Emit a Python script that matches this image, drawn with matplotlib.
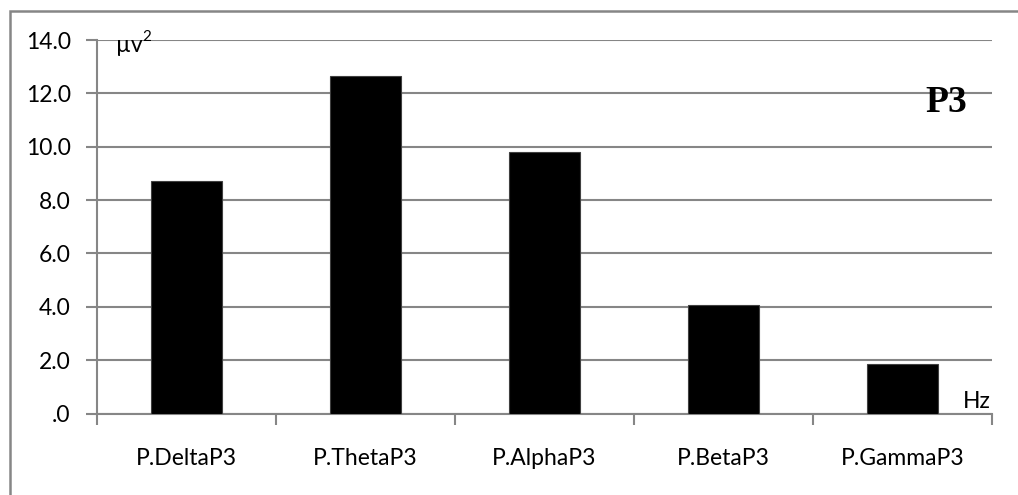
import matplotlib
matplotlib.use("Agg")
import matplotlib.pyplot as plt
from matplotlib.patches import Rectangle
import numpy as np

categories = ["P.DeltaP3", "P.ThetaP3", "P.AlphaP3", "P.BetaP3", "P.GammaP3"]
values = [8.70, 12.65, 9.80, 4.07, 1.87]
yticks = [0, 2, 4, 6, 8, 10, 12, 14]
ytick_labels = [".0", "2.0", "4.0", "6.0", "8.0", "10.0", "12.0", "14.0"]

W, H = 1018, 495
fig = plt.figure(figsize=(W / 100, H / 100), dpi=100)
fig.patch.set_facecolor("white")

# outer chart border
fig.patches.append(Rectangle((10 / W, -0.1), 1.2, 1 - 11 / H + 0.1, transform=fig.transFigure,
                             fill=False, edgecolor="#868686", linewidth=1.8))

ax = fig.add_axes([97 / W, (H - 413.5) / H, (992 - 97) / W, (413.5 - 40) / H])
x = np.arange(len(categories))
ax.bar(x, values, width=0.40, color="black", edgecolor="#404040", linewidth=0.8, zorder=3)

ax.set_xlim(-0.5, len(categories) - 0.5)
ax.set_ylim(0, 14)
ax.set_yticks(yticks)
ax.set_yticklabels(ytick_labels)
ax.yaxis.grid(True, color="#868686", linewidth=1.5, zorder=0)
ax.set_axisbelow(True)

ax.set_xticks(np.arange(-0.5, len(categories), 1.0))
ax.set_xticklabels([])
ax.set_xticks(x, minor=True)
ax.set_xticklabels(categories, minor=True)
ax.tick_params(axis="x", which="minor", length=0, pad=25, labelsize=16.5)
ax.tick_params(axis="x", which="major", length=8, width=1.5, color="#868686")
ax.tick_params(axis="y", length=8, width=1.5, color="#868686", pad=11, labelsize=16.5)

for s in ["top", "right"]:
    ax.spines[s].set_visible(False)
for s in ["left", "bottom"]:
    ax.spines[s].set_color("#868686")
    ax.spines[s].set_linewidth(1.5)

for lab in ax.get_xticklabels(minor=True) + ax.get_yticklabels():
    lab.set_fontfamily("Lato")
    lab.set_color("black")

fig.text(116 / W, (H - 52) / H, "µv", fontsize=16.5, fontfamily="Lato",
         ha="left", va="baseline")
fig.text(142 / W, (H - 41) / H, "2", fontsize=11, fontfamily="Lato",
         ha="left", va="baseline")
fig.text(991 / W, (H - 401) / H, "Hz", fontsize=16.5, fontfamily="Lato",
         ha="right", va="center")
fig.text(946 / W, (H - 103) / H, "P3", fontsize=27,
         fontfamily="Liberation Serif", fontweight="bold", ha="center", va="center")

fig.savefig("out.png", dpi=100, facecolor="white")
